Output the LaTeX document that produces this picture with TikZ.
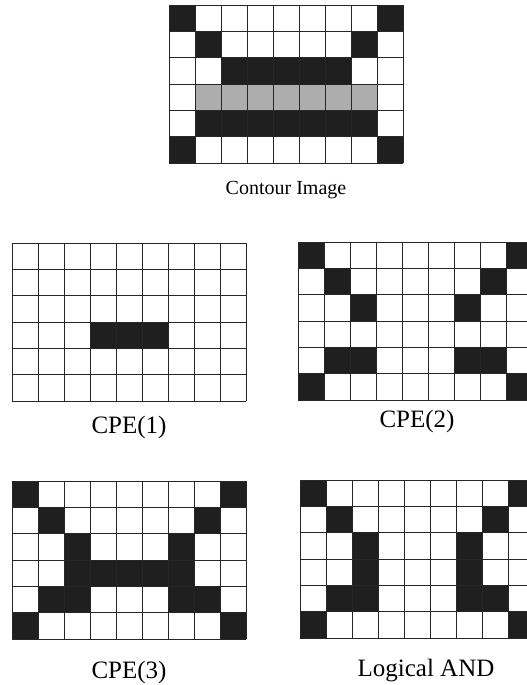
\documentclass[tikz,border=0pt]{standalone}
\usepackage{fontspec}
\setmainfont{Liberation Serif}
\tikzset{
  cellb/.style={fill=black!88},
  cellg/.style={fill=black!32},
  gridline/.style={line width=0.9pt, draw=black!85},
  lbl/.style={font=\fontsize{25}{25}\selectfont, anchor=base, inner sep=0pt},
  lbltop/.style={font=\fontsize{20}{20}\selectfont, anchor=base, inner sep=0pt}
}
\newcommand\pixgrid[4]{%
  \begin{scope}[shift={(#1,#2)}]
    \foreach \c/\r in {#3} \fill[cellb] (\c*26,\r*26.33) rectangle ++(26,26.33);
    \foreach \c/\r in {#4} \fill[cellg] (\c*26,\r*26.33) rectangle ++(26,26.33);
    \foreach \i in {0,...,9} \draw[gridline] (\i*26,0) -- (\i*26,158);
    \foreach \j in {0,...,6} \draw[gridline] (0,\j*26.33) -- (234,\j*26.33);
  \end{scope}}
\begin{document}
\begin{tikzpicture}[x=1pt,y=-1pt]
\useasboundingbox (0,0) rectangle (527,685);
\clip (0,0) rectangle (527,685);
\fill[white] (0,0) rectangle (527,685);
% Contour Image
\pixgrid{169}{5}{0/0,8/0,1/1,7/1,2/2,3/2,4/2,5/2,6/2,1/4,2/4,3/4,4/4,5/4,6/4,7/4,0/5,8/5}{1/3,2/3,3/3,4/3,5/3,6/3,7/3}
\node[lbltop] (t0) at (286,194) {Contour Image};
% CPE(1)
\pixgrid{12}{243}{3/3,4/3,5/3}{}
\node[lbl] (t1) at (129,433) {CPE(1)};
% CPE(2)
\pixgrid{298}{242}{0/0,8/0,1/1,7/1,2/2,6/2,1/4,2/4,6/4,7/4,0/5,8/5}{}
\node[lbl] (t2) at (417,427) {CPE(2)};
% CPE(3)
\pixgrid{12}{481}{0/0,8/0,1/1,7/1,2/2,6/2,2/3,3/3,4/3,5/3,6/3,1/4,2/4,6/4,7/4,0/5,8/5}{}
\node[lbl] (t3) at (129,678) {CPE(3)};
% Logical AND
\pixgrid{300}{480}{0/0,8/0,1/1,7/1,2/2,6/2,2/3,6/3,1/4,2/4,6/4,7/4,0/5,8/5}{}
\node[lbl] (t4) at (426,676) {Logical AND};
\end{tikzpicture}
\end{document}
